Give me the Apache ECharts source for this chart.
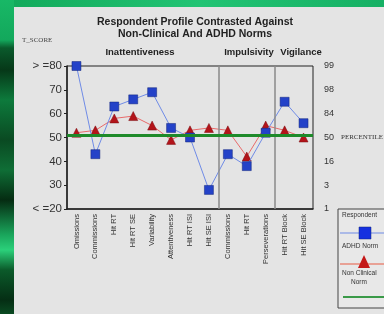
<!DOCTYPE html>
<html>
<head>
<meta charset="utf-8">
<script src="https://cdn.jsdelivr.net/npm/echarts@6/dist/echarts.min.js"></script>
<style>
  html,body{margin:0;padding:0;}
  #main{
    width:384px;height:314px;
    background:
      linear-gradient(to bottom,#18b866 0,#13a85c 40px,#0a5a2c 48px,#063818 70px,#0d7a3c 100px,#0a4a22 140px,#0f6e36 170px,#052c12 200px,#1aa65c 235px,#2bd07a 250px,#0b5a2a 270px,#052e14 300px,#0a4a22 314px) left top/14px 314px no-repeat,
      linear-gradient(to right,#12a85a,#22c474 200px,#16b064 384px) left top/384px 7px no-repeat,
      #e4e4e4;
  }
</style>
</head>
<body>
<div id="main"></div>
<script>
const categories = ['Omissions','Commissions','Hit RT','Hit RT SE','Variability','Attentiveness','Hit RT ISI','Hit SE ISI','Commissions','Hit RT','Perseverations','Hit RT Block','Hit SE Block'];
const respondent = [80, 43, 63, 66, 69, 54, 50, 28, 43, 38, 52, 65, 56];
const adhdNorm = [52, 53, 58, 59, 55, 49, 53, 54, 53, 42, 55, 53, 50];
const nonClinicalNorm = 51;
const tScoreLabels = {80:'> =80', 70:'70', 60:'60', 50:'50', 40:'40', 30:'30', 20:'< =20'};
const percentileLabels = {80:'99', 70:'98', 60:'84', 50:'50', 40:'16', 30:'3', 20:'1'};
const groupBreaks = [8, 11];

const chart = echarts.init(document.getElementById('main'));
const font = 'Liberation Sans, Arial, sans-serif';

const option = {
  backgroundColor: 'transparent',
  animation: false,
  title: {
    text: 'Respondent Profile Contrasted Against\nNon-Clinical And ADHD Norms',
    left: 190, top: 11, textAlign: 'center',
    textStyle: {fontFamily: font, fontSize: 10.5, fontWeight: 'bold', color: '#222', lineHeight: 12}
  },
  grid: {left: 67, right: 71, top: 66, height: 143, show: true, borderColor: '#222', borderWidth: 1, backgroundColor: 'transparent'},
  xAxis: [
    {
      type: 'category', data: categories, boundaryGap: true,
      axisLine: {lineStyle: {color: '#222', width: 1.5}},
      axisTick: {show: false},
      axisLabel: {rotate: 90, fontFamily: font, fontSize: 7.5, color: '#333', margin: 5, interval: 0}
    },
    {type: 'value', min: 0, max: 13, show: false}
  ],
  yAxis: [
    {
      type: 'value', min: 20, max: 80, interval: 10,
      axisLine: {show: true, lineStyle: {color: '#222', width: 1.5}},
      axisTick: {show: true, length: 3, lineStyle: {color: '#222'}},
      splitLine: {show: false},
      axisLabel: {fontFamily: font, fontSize: 11.5, color: '#333', margin: 5,
        formatter: v => tScoreLabels[v] || ''}
    },
    {
      type: 'value', min: 20, max: 80, interval: 10, position: 'right',
      axisLine: {show: false}, axisTick: {show: false}, splitLine: {show: false},
      axisLabel: {fontFamily: font, fontSize: 9, color: '#333', margin: 11,
        formatter: v => percentileLabels[v] || ''}
    }
  ],
  series: [
    {
      name: 'breaks', type: 'line', xAxisIndex: 1, data: [], silent: true,
      markLine: {
        symbol: 'none', silent: true, label: {show: false},
        lineStyle: {color: '#8a8a8a', width: 1.5, type: 'solid'},
        data: groupBreaks.map(b => ({xAxis: b}))
      }
    },
    {
      name: 'Non Clinical Norm', type: 'line', data: [], silent: true,
      markLine: {
        symbol: 'none', silent: true, label: {show: false},
        lineStyle: {color: '#1e8a2a', width: 3, type: 'solid'},
        data: [{yAxis: nonClinicalNorm}]
      }
    },
    {
      name: 'ADHD Norm', type: 'line', data: adhdNorm, z: 3,
      symbol: 'triangle', symbolSize: 9,
      lineStyle: {color: '#e86a6a', width: 1},
      itemStyle: {color: '#b3141a', borderColor: '#7a0c10', borderWidth: 0.5}
    },
    {
      name: 'Respondent', type: 'line', data: respondent, z: 4,
      symbol: 'rect', symbolSize: 9,
      lineStyle: {color: '#6f8be6', width: 1},
      itemStyle: {color: '#2442c8', borderColor: '#10257a', borderWidth: 0.5}
    }
  ],
  graphic: [
    {type: 'text', left: 22, top: 37, style: {text: 'T_SCORE', font: '7px Liberation Serif, serif', fill: '#444'}},
    {type: 'text', x: 140, y: 52, style: {text: 'Inattentiveness', font: 'bold 9.5px ' + font, fill: '#222', align: 'center', verticalAlign: 'middle'}},
    {type: 'text', x: 249, y: 52, style: {text: 'Impulsivity', font: 'bold 9.5px ' + font, fill: '#222', align: 'center', verticalAlign: 'middle'}},
    {type: 'text', x: 301, y: 52, style: {text: 'Vigilance', font: 'bold 9.5px ' + font, fill: '#222', align: 'center', verticalAlign: 'middle'}},
    {type: 'text', x: 341, y: 137, style: {text: 'PERCENTILE', font: '7px Liberation Serif, serif', fill: '#333', verticalAlign: 'middle'}},
    {type: 'rect', shape: {x: 338, y: 209, width: 60, height: 99}, style: {fill: '#e8e8e8', stroke: '#444', lineWidth: 1}},
    {type: 'text', x: 342, y: 215, style: {text: 'Respondent', font: '6.5px ' + font, fill: '#333', verticalAlign: 'middle'}},
    {type: 'line', shape: {x1: 340, y1: 233, x2: 384, y2: 233}, style: {stroke: '#6f8be6', lineWidth: 1}},
    {type: 'rect', shape: {x: 359, y: 227, width: 12, height: 12}, style: {fill: '#1530e0', stroke: '#10257a', lineWidth: 0.5}},
    {type: 'text', x: 342, y: 246, style: {text: 'ADHD Norm', font: '6.5px ' + font, fill: '#333', verticalAlign: 'middle'}},
    {type: 'line', shape: {x1: 340, y1: 264, x2: 384, y2: 264}, style: {stroke: '#e88a7a', lineWidth: 1.5}},
    {type: 'polygon', shape: {points: [[364, 255], [358, 268], [370, 268]]}, style: {fill: '#c41818'}},
    {type: 'text', x: 342, y: 273, style: {text: 'Non Clinical', font: '6.5px ' + font, fill: '#333', verticalAlign: 'middle'}},
    {type: 'text', x: 351, y: 282, style: {text: 'Norm', font: '6.5px ' + font, fill: '#333', verticalAlign: 'middle'}},
    {type: 'line', shape: {x1: 343, y1: 297, x2: 384, y2: 297}, style: {stroke: '#3a9a48', lineWidth: 2}}
  ]
};
chart.setOption(option);
</script>
</body>
</html>
